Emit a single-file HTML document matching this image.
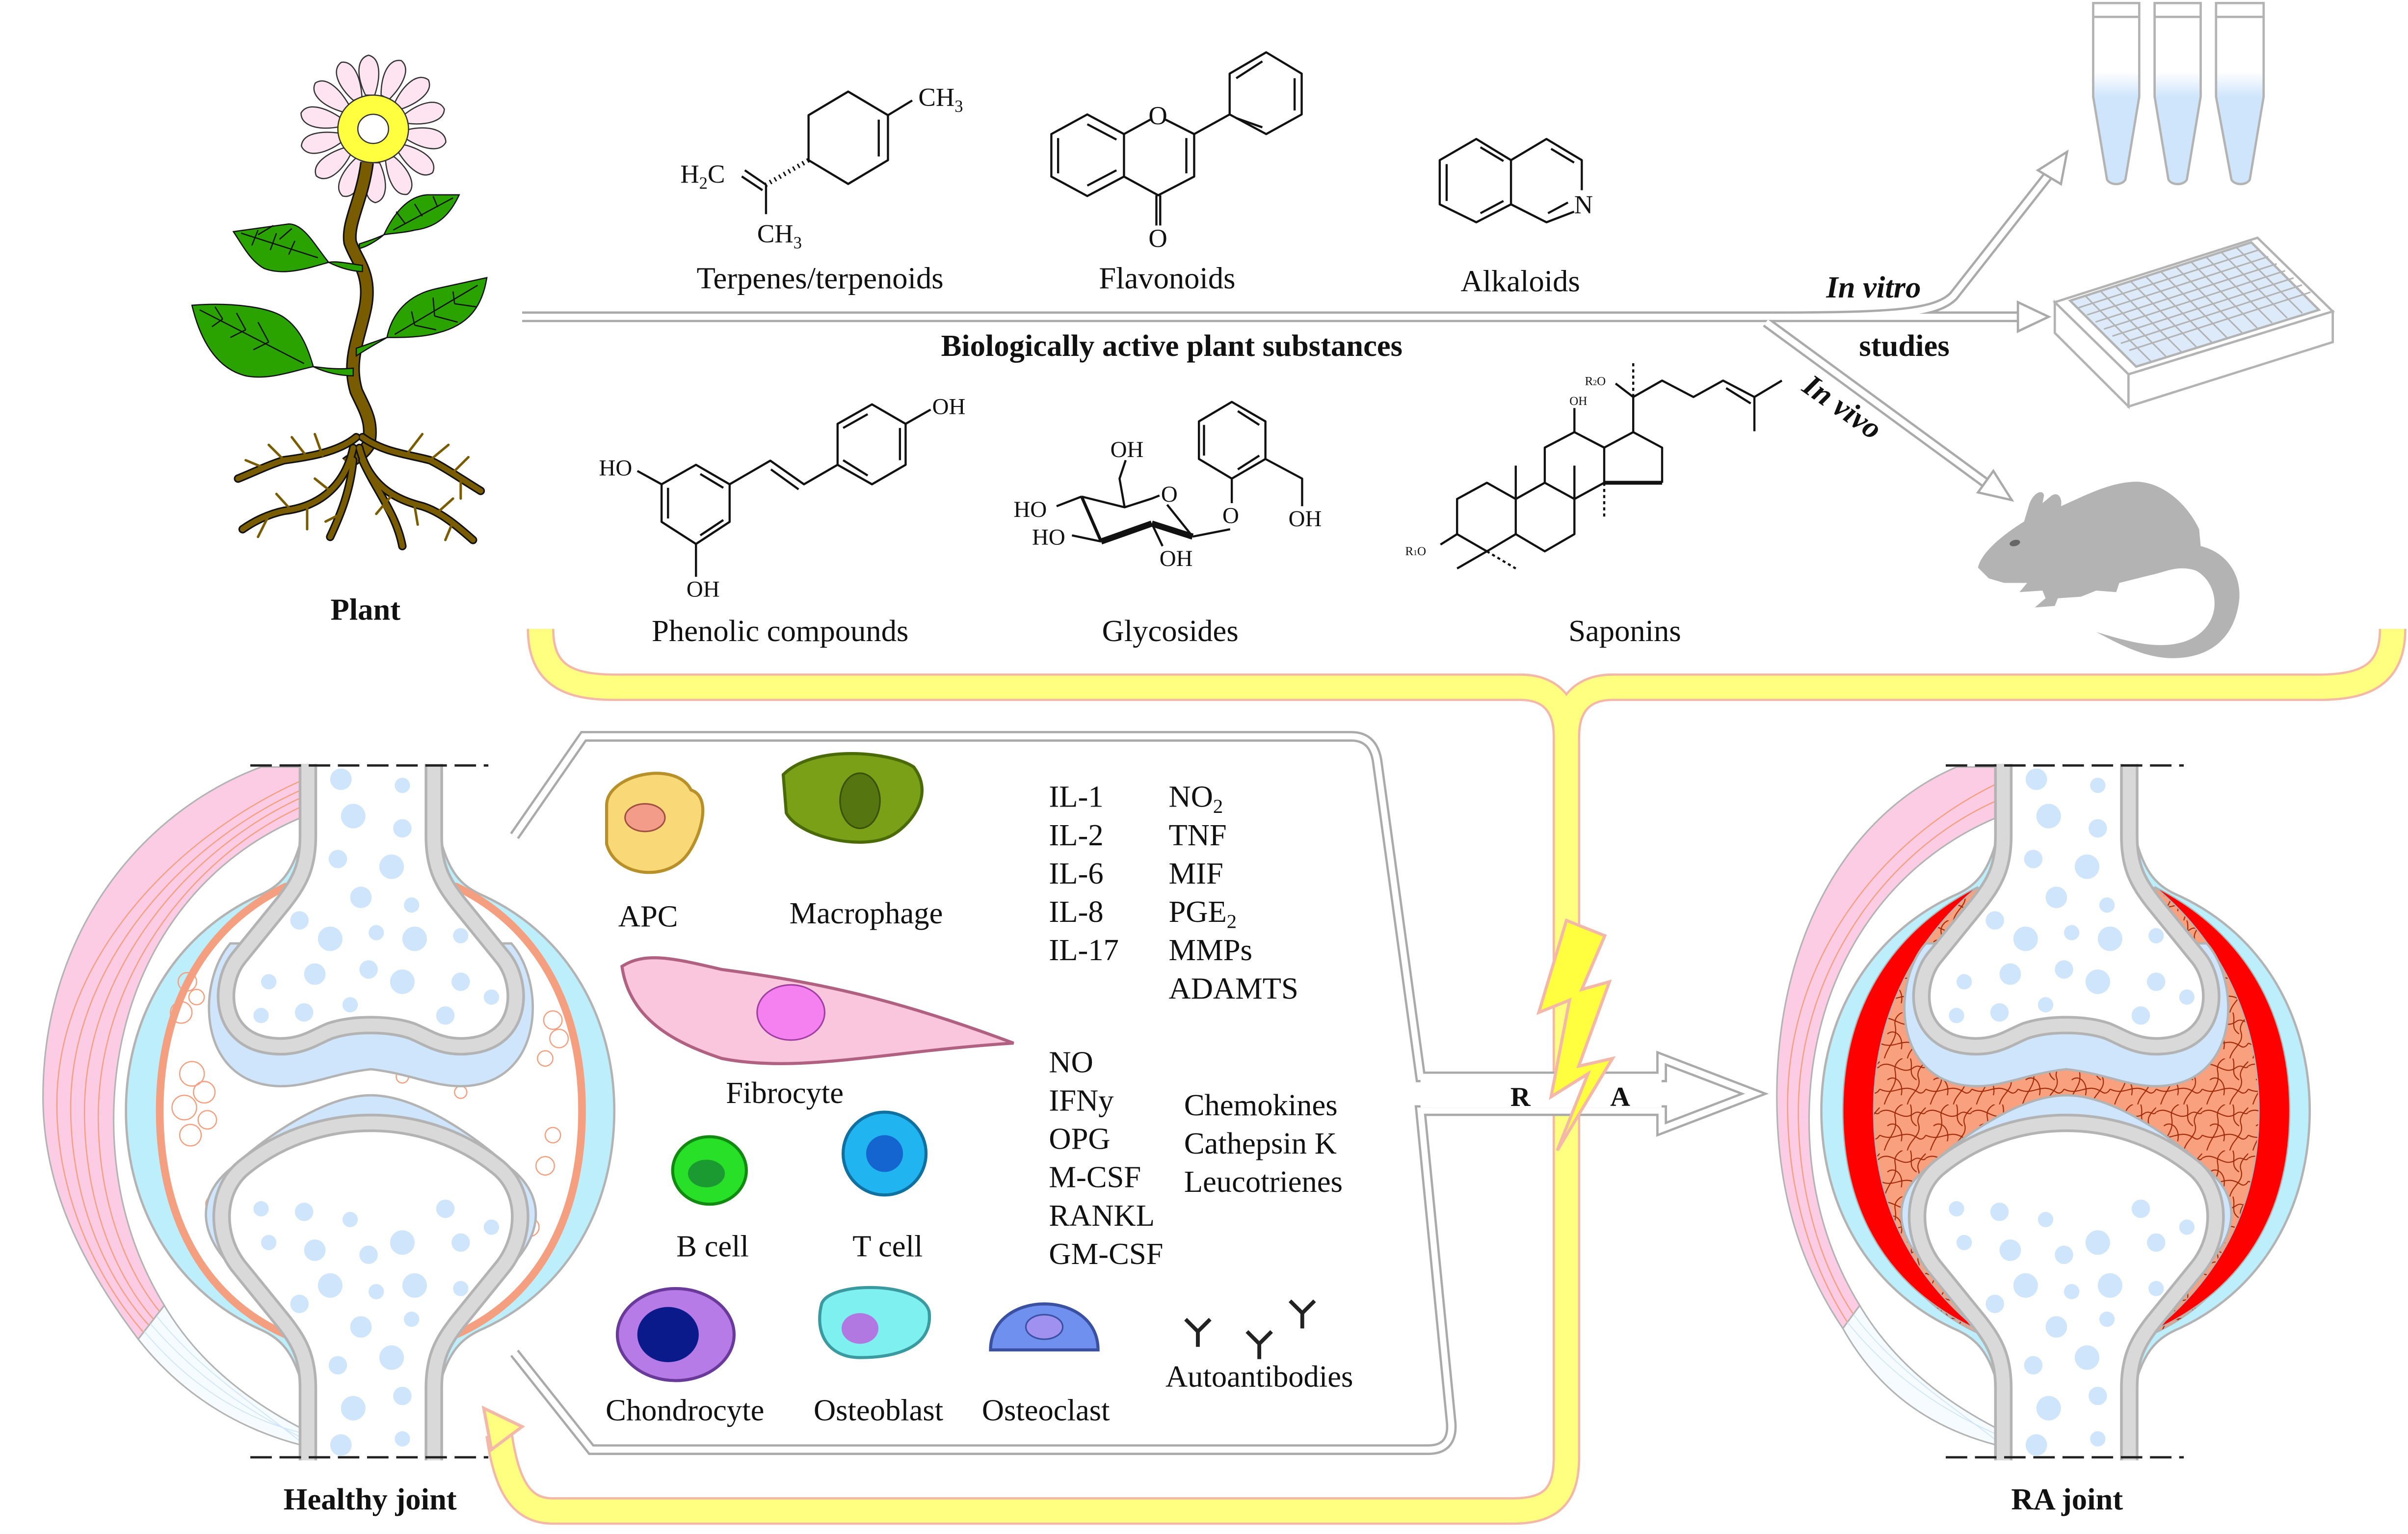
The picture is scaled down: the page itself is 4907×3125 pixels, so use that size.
<!DOCTYPE html>
<html><head><meta charset="utf-8"><style>
html,body{margin:0;padding:0;background:#fff}
svg{display:block}
text{font-family:"Liberation Serif",serif;fill:#111}
.ch{font-family:"Liberation Sans",sans-serif}
</style></head><body>
<svg width="4907" height="3125" viewBox="0 0 1568 1000" preserveAspectRatio="none" xmlns="http://www.w3.org/2000/svg">
<defs>
<linearGradient id="tg" x1="0" y1="0" x2="0" y2="1"><stop offset="0.38" stop-color="#fff"/><stop offset="0.52" stop-color="#cfe5fb"/><stop offset="1" stop-color="#cfe5fb"/></linearGradient>
<pattern id="fib" width="30" height="30" patternUnits="userSpaceOnUse">
  <g fill="none" stroke="#a02a08" stroke-width="0.7">
    <path d="M0,5 C8,0 14,12 22,6 C26,3 28,8 30,5"/><path d="M3,30 C6,20 12,18 10,8 C9,3 14,0 15,0"/>
    <path d="M0,20 C10,25 15,15 25,22 C28,24 30,20 30,20"/><path d="M18,30 C20,22 28,20 25,12 C24,8 28,4 30,2"/>
    <path d="M5,14 C10,10 16,16 14,24"/><path d="M20,0 C22,6 18,10 24,14"/>
  </g>
</pattern>
<g id="spotsUp" fill="#cfe5fb">
  <circle cx="222" cy="508" r="7"/><circle cx="262" cy="512" r="5"/><circle cx="230" cy="532" r="8"/><circle cx="262" cy="540" r="6"/>
  <circle cx="220" cy="560" r="6"/><circle cx="255" cy="565" r="8"/><circle cx="235" cy="585" r="7"/><circle cx="268" cy="590" r="5"/>
  <circle cx="195" cy="600" r="6"/><circle cx="215" cy="612" r="8"/><circle cx="245" cy="608" r="5"/><circle cx="270" cy="612" r="8"/><circle cx="300" cy="610" r="5"/>
  <circle cx="175" cy="640" r="5"/><circle cx="205" cy="635" r="7"/><circle cx="240" cy="632" r="6"/><circle cx="262" cy="640" r="8"/><circle cx="300" cy="640" r="6"/><circle cx="320" cy="650" r="5"/>
  <circle cx="170" cy="662" r="5"/><circle cx="198" cy="660" r="6"/><circle cx="228" cy="655" r="5"/><circle cx="290" cy="662" r="6"/>
</g>
<g id="bone">
  <path d="M150,615 C128,640 128,705 180,708 C200,709 215,700 241.5,697 C268,700 283,709 303,708 C355,705 355,640 333,615 Z" fill="#cfe5fb" stroke="#b3b3b3" stroke-width="1.5"/>
  <path d="M200.5,498 L200.5,545 C200.5,565 195,575 185,588 L155,625 C142,642 142,680 180,682 C196,683 205,676 215,672 C230,667 253,667 268,672 C278,676 287,683 303,682 C341,680 341,642 328,625 L298,588 C288,575 282.5,565 282.5,545 L282.5,498 Z" fill="#fff"/>
  <use href="#spotsUp"/>
  <path d="M200.5,498 L200.5,545 C200.5,565 195,575 185,588 L155,625 C142,642 142,680 180,682 C196,683 205,676 215,672 C230,667 253,667 268,672 C278,676 287,683 303,682 C341,680 341,642 328,625 L298,588 C288,575 282.5,565 282.5,545 L282.5,498" fill="none" stroke="#b3b3b3" stroke-width="12"/>
  <path d="M200.5,498 L200.5,545 C200.5,565 195,575 185,588 L155,625 C142,642 142,680 180,682 C196,683 205,676 215,672 C230,667 253,667 268,672 C278,676 287,683 303,682 C341,680 341,642 328,625 L298,588 C288,575 282.5,565 282.5,545 L282.5,498" fill="none" stroke="#d9d9d9" stroke-width="8.5"/>
</g>
<g id="boneLow">
  <path d="M155,830 C128,805 128,780 150,762 C180,735 215,714 241.5,714 C268,714 303,735 333,762 C355,780 355,805 328,830 Z" fill="#cfe5fb" stroke="#b3b3b3" stroke-width="1.5"/>
  <path d="M200.5,952 L200.5,905 C200.5,885 195,875 185,862 L155,825 C140,805 140,775 160,760 C185,740 215,732 241.5,732 C268,732 298,740 323,760 C343,775 343,805 328,825 L298,862 C288,875 282.5,885 282.5,905 L282.5,952 Z" fill="#fff"/>
  <use href="#spotsUp" transform="translate(0,1450) scale(1,-1)"/>
  <path d="M200.5,952 L200.5,905 C200.5,885 195,875 185,862 L155,825 C140,805 140,775 160,760 C185,740 215,732 241.5,732 C268,732 298,740 323,760 C343,775 343,805 328,825 L298,862 C288,875 282.5,885 282.5,905 L282.5,952" fill="none" stroke="#b3b3b3" stroke-width="12"/>
  <path d="M200.5,952 L200.5,905 C200.5,885 195,875 185,862 L155,825 C140,805 140,775 160,760 C185,740 215,732 241.5,732 C268,732 298,740 323,760 C343,775 343,805 328,825 L298,862 C288,875 282.5,885 282.5,905 L282.5,952" fill="none" stroke="#d9d9d9" stroke-width="8.5"/>
</g>
<path id="capOuter" d="M196,548 C190,570 182,578 168,584 C112,610 82,665 82,724 C82,785 112,840 168,866 C182,872 190,880 196,900 L287,900 C293,880 301,872 315,866 C371,840 400,785 400,724 C400,665 371,610 315,584 C301,578 293,570 287,548 Z"/>
<path id="capInner" d="M186,578 C130,605 104,660 104,724 C104,790 130,845 186,870 L297,870 C353,845 379,790 379,724 C379,660 353,605 297,578 Z"/>
<g id="dashes" stroke="#222" stroke-width="1.5" stroke-dasharray="14,5"><line x1="163" y1="499" x2="318" y2="499"/><line x1="163" y1="950" x2="318" y2="950"/></g>
</defs>

<!-- plant -->
<g>
  <g fill="#fde4f0" stroke="#333" stroke-width="0.8">
    <g id="pet"><path d="M238,62 C232,50 232,38 240,36 C248,38 248,50 244,62 Z"/></g>
    <use href="#pet" transform="rotate(26 243 84)"/><use href="#pet" transform="rotate(52 243 84)"/><use href="#pet" transform="rotate(78 243 84)"/>
    <use href="#pet" transform="rotate(104 243 84)"/><use href="#pet" transform="rotate(130 243 84)"/><use href="#pet" transform="rotate(156 243 84)"/>
    <use href="#pet" transform="rotate(182 243 84)"/><use href="#pet" transform="rotate(208 243 84)"/><use href="#pet" transform="rotate(234 243 84)"/>
    <use href="#pet" transform="rotate(260 243 84)"/><use href="#pet" transform="rotate(286 243 84)"/><use href="#pet" transform="rotate(312 243 84)"/><use href="#pet" transform="rotate(338 243 84)"/>
  </g>
  <path d="M239,106 C236,130 226,145 228,158 C232,170 242,178 238,200 C234,220 226,235 232,255 C238,268 243,275 240,290 C236,297 228,300 226,302" fill="none" stroke="#111" stroke-width="9"/>
  <path d="M239,106 C236,130 226,145 228,158 C232,170 242,178 238,200 C234,220 226,235 232,255 C238,268 243,275 240,290 C236,297 228,300 226,302" fill="none" stroke="#7a5c00" stroke-width="7"/>
  <g fill="#2aa300" stroke="#111" stroke-width="0.8">
    <path d="M152,151 L188,146 C198,146 205,160 214,171 C200,175 185,180 172,175 C163,170 158,160 152,151 Z"/>
    <path d="M214,171 C222,175 230,177 236,177 L236,173 C228,172 220,170 214,171Z"/>
    <path d="M250,153 C256,140 265,128 278,127 L299,127 C293,140 285,148 270,150 C262,152 255,152 250,153 Z"/>
    <path d="M250,153 C244,158 238,161 234,162 L234,159 C240,157 246,155 250,153Z"/>
    <path d="M125,199 C150,197 175,200 185,207 C195,214 200,225 204,239 C190,242 175,248 160,245 C140,240 130,220 125,199 Z"/>
    <path d="M204,239 C212,243 222,245 230,245 L230,240 C220,241 212,240 204,239Z"/>
    <path d="M252,220 C255,205 265,192 285,188 L317,181 C314,200 305,212 285,217 C275,220 262,220 252,220 Z"/>
    <path d="M252,220 C245,224 238,228 232,232 L232,227 C238,225 246,222 252,220Z"/>
  </g>
  <g fill="none" stroke="#111" stroke-width="0.8">
    <path d="M157,152 L207,168 M168,150 L164,160 M180,152 L176,163 M192,157 L188,166 M168,153 L178,147 M182,156 L190,149"/>
    <path d="M256,150 L295,129 M264,146 L258,138 M275,141 L270,133 M285,135 L282,128"/>
    <path d="M130,202 L198,237 M145,208 L138,213 M160,215 L150,220 M175,223 L165,228 M145,208 L140,200 M160,215 L154,204 M175,223 L168,210"/>
    <path d="M257,218 L311,186 M270,212 L268,203 M283,206 L282,194 M296,198 L295,190 M270,212 L284,215 M283,206 L298,210 M296,198 L310,200"/>
  </g>
  <g fill="none" stroke-linecap="round">
    <g stroke="#111" stroke-width="5.5">
      <path d="M232,285 C220,295 200,298 185,300 C175,303 165,308 155,312"/><path d="M236,285 C250,295 265,296 280,300 C290,305 300,312 313,320"/>
      <path d="M230,292 C225,315 210,330 185,333 C175,335 165,340 158,345"/><path d="M234,292 C240,315 255,325 275,330 C288,334 300,345 308,352"/>
      <path d="M230,300 C228,320 222,335 215,350"/><path d="M236,300 C245,320 258,335 262,356"/>
    </g>
    <g stroke="#7a5c00" stroke-width="3.5">
      <path d="M232,285 C220,295 200,298 185,300 C175,303 165,308 155,312"/><path d="M236,285 C250,295 265,296 280,300 C290,305 300,312 313,320"/>
      <path d="M230,292 C225,315 210,330 185,333 C175,335 165,340 158,345"/><path d="M234,292 C240,315 255,325 275,330 C288,334 300,345 308,352"/>
      <path d="M230,300 C228,320 222,335 215,350"/><path d="M236,300 C245,320 258,335 262,356"/>
    </g>
    <g stroke="#7a5c00" stroke-width="1.6">
      <path d="M200,298 L190,285 M185,300 L175,290 M172,305 L160,300 M210,297 L205,283 M190,333 L180,322 M175,336 L168,350 M200,330 L200,345 M215,320 L205,312"/>
      <path d="M265,296 L275,283 M280,300 L292,290 M295,308 L305,298 M300,312 L300,325 M270,330 L272,342 M285,334 L295,325 M295,340 L290,352 M255,323 L245,335 M222,335 L212,340 M250,330 L258,342"/>
    </g>
  </g>
  <ellipse cx="243" cy="84" rx="23" ry="22" fill="#ffff40" stroke="#333" stroke-width="0.8"/>
  <ellipse cx="243" cy="84" rx="10" ry="9.5" fill="#fff" stroke="#333" stroke-width="0.8"/>
</g>
<text x="238" y="404" font-size="20" font-weight="bold" text-anchor="middle">Plant</text>

<!-- main arrows -->
<g fill="none" stroke-linejoin="round">
  <path d="M340,206.5 L1150,206.5 C1230,206.5 1260,205 1272,193 L1334,114 M1150,206.5 L1280,206.5 L1316,206.5 M1150,210 L1300,320" stroke="#aaa" stroke-width="7"/>
  <path d="M340,206.5 L1150,206.5 C1230,206.5 1260,205 1272,193 L1334,114 M1150,206.5 L1280,206.5 L1316,206.5 M1150,210 L1300,320" stroke="#fff" stroke-width="4"/>
</g>
<g fill="#fff" stroke="#aaa" stroke-width="1.5">
  <path d="M1314,197 L1334,206.5 L1314,216Z"/><path d="M1327,111 L1346,99 L1342,120Z"/><path d="M1298,307 L1310,326 L1288,321Z"/>
</g>

<!-- tubes -->
<g stroke="#b3b3b3" stroke-width="1.5" fill="url(#tg)">
  <path d="M1363,2 L1393,2 L1393,63 L1384,117 C1382,121 1374,121 1372,117 L1363,63Z"/>
  <path d="M1403,2 L1433,2 L1433,63 L1424,117 C1422,121 1414,121 1412,117 L1403,63Z"/>
  <path d="M1443,2 L1474,2 L1474,63 L1465,117 C1463,121 1455,121 1453,117 L1443,63Z"/>
  <path d="M1363,11 L1393,11 M1403,11 L1433,11 M1443,11 L1474,11" fill="none"/>
</g>
<!-- plate -->
<g stroke="#b3b3b3" stroke-width="1.5">
  <path d="M1338,197 L1470,155 L1519,203 L1386,244Z" fill="#fff"/>
  <path d="M1338,197 L1338,217 L1386,265 L1386,244Z" fill="#fff"/>
  <path d="M1386,244 L1386,265 L1519,223 L1519,203Z" fill="#fff"/>
  <path d="M1348,196 L1466,158 L1510,202 L1391,239Z" fill="#dceafa"/>
</g>
<g stroke="#b3b3b3" stroke-width="1">
  <path d="M1353.5,200.6 L1471.5,162.7 M1359,205.3 L1477,167.3 M1364.5,209.9 L1482.5,172 M1370,214.5 L1488,176.5 M1375.5,219.1 L1493.5,181.2 M1381,223.8 L1499,185.8 M1386.5,228.4 L1504.5,190.5"/>
  <path d="M1357.8,192.8 L1400.8,235.8 M1367.7,189.7 L1410.7,232.7 M1377.5,186.5 L1420.5,229.5 M1387.3,183.3 L1430.3,226.3 M1397.2,180.2 L1440.2,223.2 M1407,177 L1450,220 M1416.8,173.8 L1459.8,216.8 M1426.7,170.7 L1469.7,213.7 M1436.5,167.5 L1479.5,210.5 M1446.3,164.3 L1489.3,207.3 M1456.2,161.2 L1499.2,204.2"/>
</g>
<!-- mouse -->
<path d="M1288,370 C1290,360 1305,348 1318,340 L1321,330 C1323,322 1330,318 1331,323 L1330,328 L1336,323 C1341,320 1343,326 1342,330 C1360,322 1375,314 1392,314 C1410,315 1425,330 1432,345 L1433,356 C1450,360 1460,375 1458,392 C1455,415 1440,430 1412,429 C1395,428 1380,420 1365,412 C1385,418 1400,422 1415,420 C1448,415 1448,382 1430,372 C1418,368 1410,373 1400,375 L1380,380 L1378,386 L1365,385 L1355,389 L1340,390 L1338,395 L1325,396 L1332,390 L1330,385 L1315,386 L1320,380 L1305,380 L1295,377 Z" fill="#b3b3b3"/>
<ellipse cx="1312" cy="354" rx="3.5" ry="2" fill="#666" transform="rotate(-15 1312 354)"/>

<!-- chemical structures -->
<g fill="none" stroke="#111" stroke-width="1.4" stroke-linejoin="round">
  <!-- terpene -->
  <path d="M552.3,59.7 L578.2,75.1 L578.2,104.4 L552.3,119.9 L526.5,104.4 L526.5,75.1 Z"/>
  <path d="M572.2,78 L572.2,102"/><path d="M578.2,75.1 L594,65.5"/>
  <path d="M526.5,104.4 L498.8,120.4" stroke-width="3" stroke-dasharray="1,2.5"/>
  <path d="M498.8,120.4 L485,111 M496.5,124 L483,115"/><path d="M498.8,120.4 L498.8,139.6"/>
  <!-- flavone -->
  <path d="M708,74.6 L731.9,87.4 L731.9,115.1 L708,127.8 L684.6,115.1 L684.6,87.4Z"/>
  <path d="M708,81 L727,91 M689,90 L689,113 M708,121 L727,111"/>
  <path d="M731.9,87.4 L749,78 M759,78 L777.6,87.4 L777.6,115.1 L754.2,127.3 L731.9,115.1"/>
  <path d="M772.5,90 L772.5,113"/><path d="M753,127.3 L753,147 M755.5,127.3 L755.5,147"/>
  <path d="M777.6,87.4 L800.7,74.6"/>
  <path d="M824.5,34.1 L847.6,48 L847.6,74.6 L824.5,87.4 L800.7,74.6 L800.7,48 Z"/>
  <path d="M805,51 L822,40 M843,51 L843,72 M805,77 L822,83"/>
  <!-- isoquinoline -->
  <path d="M961.3,90.6 L983.9,104.4 L983.9,133.2 L961.3,144.9 L937.5,133.2 L937.5,104.4Z"/>
  <path d="M942,107 L942,131 M964,96 L979,105 M964,139 L979,131"/>
  <path d="M983.9,104.4 L1007,90.6 L1030,104.4 L1030,124 M1025,138 L1007,144.9 L983.9,133.2"/>
  <path d="M1010,97 L1025,106 M1008,139 L1021,132"/>
  <!-- stilbene -->
  <path d="M453.2,303 L475.1,315.7 L475.1,340.2 L453.2,354.6 L430.8,340.2 L430.8,315.7Z"/>
  <path d="M456,309 L471,318 M456,349 L471,339 M435,318 L435,338"/>
  <path d="M430.8,315.7 L415,307"/><path d="M453.2,354.6 L453.2,376"/>
  <path d="M475.1,315.7 L501.6,300.3 L523.5,315.7 L545.4,303"/><path d="M502,306 L520,319"/>
  <path d="M567.8,263.6 L589.7,276.3 L589.7,303 L567.8,315.7 L545.4,303 L545.4,276.3Z"/>
  <path d="M549,279 L565,270 M549,300 L565,310 M586,279 L586,300"/><path d="M589.7,276.3 L606,267"/>
  <!-- glycoside -->
  <path d="M802.1,262 L824,274.7 L824,299.2 L802.1,312 L780.7,299.2 L780.7,274.7Z"/>
  <path d="M806,268 L820,277 M784,277 L784,297 M806,306 L820,297"/>
  <path d="M824,299.2 L847.9,312 L847.9,330"/><path d="M802.1,312 L802.1,328"/><path d="M801,345 L776.6,349.8"/>
  <path d="M704.3,323.7 L732.3,330.7 L750,325 L755,323 M760,329 L776.6,349.8"/>
  <path d="M776.6,349.8 L750,341.3" stroke-width="4"/><path d="M750,341.3 L717,353" stroke-width="4"/><path d="M717,353 L704.3,323.7" stroke-width="2"/>
  <path d="M732.3,330.7 L729,312 L733,300"/><path d="M704.3,323.7 L688,330"/><path d="M717,353 L698,349"/><path d="M750,341.3 L757,356"/>
  <!-- saponin -->
  <path d="M948.8,325.3 L968.2,314.7 L987,325.3 L987,348.2 L968.2,359.4 L948.8,348.2Z"/>
  <path d="M987,325.3 L1005.9,314.7 L1025.2,325.3 L1025.2,348.2 L1005.9,359.4 L987,348.2"/>
  <path d="M1005.9,314.7 L1005.9,291.8 L1025.2,281.7 L1044.6,291.8 L1044.6,314.7 L1025.2,325.3"/>
  <path d="M1044.6,291.8 L1063.5,281.7 L1082.3,291.8 L1082.3,314.7"/><path d="M1044.6,314.7 L1082.3,314.7" stroke-width="2.5"/>
  <path d="M987,325.3 L987,303.5 M1025.2,325.3 L1025.2,303.5"/><path d="M1044.6,314.7 L1044.6,337" stroke-dasharray="2,2"/>
  <path d="M1063.5,281.7 L1063.5,258.8 L1082.3,248.1 L1102.7,258.8 L1122,248.1 L1142.4,258.8 L1160.3,248.1 M1142.4,258.8 L1142.4,281.1"/>
  <path d="M1124,253 L1140,263"/><path d="M1063.5,258.8 L1052,250"/><path d="M1063.5,258.8 L1063.5,236" stroke-dasharray="2,2"/>
  <path d="M1025.2,281.7 L1025.2,266"/><path d="M948.8,348.2 L938,355"/>
  <path d="M968.2,359.4 L948.8,370.6"/><path d="M968.2,359.4 L987,370.6" stroke-dasharray="2,2"/>
</g>
<g class="ch" font-size="17">
  <text x="443" y="119">H<tspan font-size="11" dy="4">2</tspan><tspan dy="-4">C</tspan></text>
  <text x="598" y="69">CH<tspan font-size="11" dy="4">3</tspan></text>
  <text x="493" y="158">CH<tspan font-size="11" dy="4">3</tspan></text>
  <text x="754" y="81" text-anchor="middle">O</text><text x="754" y="161" text-anchor="middle">O</text>
  <text x="1025" y="139">N</text>
  <text x="607" y="270" font-size="15">OH</text><text x="390" y="310" font-size="15">HO</text><text x="447" y="389" font-size="15">OH</text>
  <text x="723" y="298" font-size="15">OH</text><text x="660" y="337" font-size="15">HO</text><text x="672" y="355" font-size="15">HO</text><text x="755" y="369" font-size="15">OH</text>
  <text x="756" y="327" font-size="15">O</text><text x="796" y="341" font-size="15">O</text><text x="839" y="343" font-size="15">OH</text>
  <text x="1022" y="264" font-size="8">OH</text><text x="1032" y="251" font-size="8">R<tspan font-size="5">2</tspan>O</text><text x="915" y="362" font-size="8">R<tspan font-size="5">1</tspan>O</text>
</g>
<g font-size="20">
  <text x="534" y="188" text-anchor="middle">Terpenes/terpenoids</text>
  <text x="760" y="188" text-anchor="middle">Flavonoids</text>
  <text x="990" y="190" text-anchor="middle">Alkaloids</text>
  <text x="508" y="418" text-anchor="middle">Phenolic compounds</text>
  <text x="762" y="418" text-anchor="middle">Glycosides</text>
  <text x="1058" y="418" text-anchor="middle">Saponins</text>
</g>
<text x="763" y="232" font-size="20" font-weight="bold" text-anchor="middle">Biologically active plant substances</text>
<text x="1220" y="194" font-size="20" font-weight="bold" font-style="italic" text-anchor="middle">In vitro</text>
<text x="1240" y="232" font-size="20" font-weight="bold" text-anchor="middle">studies</text>
<text x="1200" y="272" font-size="20" font-weight="bold" font-style="italic" text-anchor="middle" transform="rotate(35 1200 265)">In vivo</text>

<!-- yellow bracket -->
<g fill="none" stroke-linejoin="round">
  <path d="M352,410 C352,440 370,448 400,448 L990,448 C1010,448 1020,460 1020,480 L1020,950 C1020,975 1010,985 985,985 L360,985 C340,985 330,970 325,935" stroke="#f4b8a8" stroke-width="18"/>
  <path d="M1558,410 C1558,440 1540,448 1510,448 L1050,448 C1030,448 1020,460 1020,480" stroke="#f4b8a8" stroke-width="18"/>
  <path d="M352,410 C352,440 370,448 400,448 L990,448 C1010,448 1020,460 1020,480 L1020,950 C1020,975 1010,985 985,985 L360,985 C340,985 330,970 325,935" stroke="#ffff80" stroke-width="15"/>
  <path d="M1558,410 C1558,440 1540,448 1510,448 L1050,448 C1030,448 1020,460 1020,480" stroke="#ffff80" stroke-width="15"/>
</g>
<path d="M315,918 L340,930 L320,945Z" fill="#ffff80" stroke="#f4b8a8" stroke-width="2"/>

<!-- gray box with arrow -->
<path d="M335,545 L380,480 L880,480 Q895,480 897,498 L925,702 L1082,702 L1082,690 L1142,713 L1082,736 L1082,724 L925,724 L945,928 Q946,945 930,945 L385,945 L335,882" fill="none" stroke="#aaa" stroke-width="7"/>
<path d="M335,545 L380,480 L880,480 Q895,480 897,498 L925,702 L1082,702 L1082,690 L1142,713 L1082,736 L1082,724 L925,724 L945,928 Q946,945 930,945 L385,945 L335,882" fill="none" stroke="#fff" stroke-width="4"/>
<path d="M925,704 L1082,704 L1082,722 L925,722Z" fill="#fff"/>
<text x="990" y="721" font-size="18" font-weight="bold" text-anchor="middle">R</text>
<text x="1055" y="721" font-size="18" font-weight="bold" text-anchor="middle">A</text>
<path d="M1020,600 L1002,660 L1022,652 L1010,715 L1034,700 L1014,750 L1050,690 L1028,695 L1048,640 L1030,645 L1045,610Z" fill="#ffff40" stroke="#f4b8a8" stroke-width="2"/>

<!-- cells -->
<path d="M395,525 C395,505 440,495 450,515 C465,520 455,550 445,560 C430,575 400,570 395,550Z" fill="#f9d878" stroke="#b8902a" stroke-width="2"/>
<ellipse cx="420" cy="533" rx="13" ry="9" fill="#f39c8a" stroke="#a05040"/>
<path d="M510,505 C530,485 580,490 595,500 C610,520 590,540 580,545 C560,555 520,545 512,530Z" fill="#7aa018" stroke="#4a6a08" stroke-width="2"/>
<ellipse cx="560" cy="522" rx="13" ry="18" fill="#557510" stroke="#3a5005"/>
<path d="M405,630 C420,620 440,625 470,632 C530,640 580,650 660,680 C580,685 520,700 470,690 C440,680 410,665 405,630Z" fill="#f9c6dd" stroke="#b06080" stroke-width="2"/>
<ellipse cx="515" cy="660" rx="22" ry="18" fill="#f580f0" stroke="#a040a0"/>
<ellipse cx="462" cy="763" rx="24" ry="22" fill="#29e029" stroke="#128a12" stroke-width="2"/><ellipse cx="460" cy="765" rx="12" ry="9" fill="#1a9a30"/>
<circle cx="576" cy="752" r="27" fill="#20b4f0" stroke="#1070a0" stroke-width="2"/><circle cx="576" cy="752" r="12" fill="#1565d0"/>
<ellipse cx="440" cy="870" rx="38" ry="30" fill="#b77be8" stroke="#6a3a9a" stroke-width="2"/><ellipse cx="435" cy="870" rx="20" ry="18" fill="#0a1a8a"/>
<path d="M535,850 C540,835 600,835 605,855 C608,880 580,885 560,885 C540,885 530,870 535,850Z" fill="#7ff0f0" stroke="#3a9aa0" stroke-width="2"/><ellipse cx="560" cy="866" rx="12" ry="10" fill="#b078e0"/>
<path d="M645,880 C645,840 715,840 715,880 Z" fill="#7090f0" stroke="#3a50a0" stroke-width="2"/><ellipse cx="680" cy="865" rx="12" ry="8" fill="#a090f0" stroke="#3a50a0"/>
<g font-size="20">
  <text x="422" y="604" text-anchor="middle">APC</text>
  <text x="564" y="602" text-anchor="middle">Macrophage</text>
  <text x="511" y="719" text-anchor="middle">Fibrocyte</text>
  <text x="464" y="819" text-anchor="middle">B cell</text>
  <text x="578" y="819" text-anchor="middle">T cell</text>
  <text x="446" y="926" text-anchor="middle">Chondrocyte</text>
  <text x="572" y="926" text-anchor="middle">Osteoblast</text>
  <text x="681" y="926" text-anchor="middle">Osteoclast</text>
  <text x="820" y="904" text-anchor="middle">Autoantibodies</text>
  <text x="683" y="526">IL-1</text><text x="683" y="551">IL-2</text><text x="683" y="576">IL-6</text><text x="683" y="601">IL-8</text><text x="683" y="626">IL-17</text>
  <text x="761" y="526">NO<tspan font-size="13" dy="4">2</tspan></text><text x="761" y="551">TNF</text><text x="761" y="576">MIF</text><text x="761" y="601">PGE<tspan font-size="13" dy="4">2</tspan></text><text x="761" y="626">MMPs</text><text x="761" y="651">ADAMTS</text>
  <text x="683" y="699">NO</text><text x="683" y="724">IFNy</text><text x="683" y="749">OPG</text><text x="683" y="774">M-CSF</text><text x="683" y="799">RANKL</text><text x="683" y="824">GM-CSF</text>
  <text x="771" y="727">Chemokines</text><text x="771" y="752">Cathepsin K</text><text x="771" y="777">Leucotrienes</text>
</g>
<g stroke="#222" stroke-width="2.5" fill="none">
  <path d="M772,860 L780,868 L788,860 M780,868 L780,878"/><path d="M812,868 L820,876 L828,868 M820,876 L820,886"/><path d="M840,848 L848,856 L856,848 M848,856 L848,866"/>
</g>

<!-- healthy joint -->
<g>
  <path d="M170,500 L196,500 L196,533 C120,565 74,640 74,730 C74,780 88,820 107,851 L90,873 C50,820 28,770 28,715 C28,610 90,530 170,500 Z" fill="#fccce4" stroke="#b3b3b3" stroke-width="1"/>
  <g fill="none" stroke="#f4a080" stroke-width="0.8">
    <path d="M196,509 C115,545 37,625 37,720 C37,775 60,830 93,868"/><path d="M196,515 C118,550 46,630 46,722 C46,777 66,830 97,864"/>
    <path d="M196,520 C120,555 55,635 55,725 C55,778 72,828 100,860"/><path d="M196,526 C122,560 64,640 64,728 C64,779 80,826 104,855"/>
  </g>
  <path d="M90,873 L107,851 C130,890 165,915 196,931 L196,942 C150,930 115,905 90,873 Z" fill="#f6fbff" stroke="#b3b3b3" stroke-width="1"/>
  <g fill="none" stroke="#cfe5fb" stroke-width="0.6"><path d="M94,868 C125,905 160,925 196,934"/><path d="M98,863 C128,898 162,920 196,937"/><path d="M102,858 C130,893 165,915 196,940"/></g>
  <use href="#capOuter" fill="#bdeefc" stroke="#b3b3b3" stroke-width="1.5"/>
  <use href="#capInner" fill="#fff" stroke="#f4a080" stroke-width="5"/>
  <g fill="none" stroke="#f4a080" stroke-width="0.8">
    <circle cx="122" cy="640" r="6"/><circle cx="128" cy="650" r="5"/><circle cx="118" cy="660" r="7"/>
    <circle cx="125" cy="700" r="8"/><circle cx="133" cy="712" r="7"/><circle cx="120" cy="722" r="8"/><circle cx="135" cy="730" r="6"/><circle cx="124" cy="740" r="7"/>
    <circle cx="140" cy="785" r="6"/><circle cx="146" cy="795" r="5"/>
    <circle cx="360" cy="665" r="6"/><circle cx="364" cy="677" r="6"/><circle cx="355" cy="690" r="5"/>
    <circle cx="360" cy="740" r="5"/><circle cx="355" cy="760" r="6"/><circle cx="345" cy="800" r="6"/><circle cx="335" cy="815" r="5"/>
    <circle cx="200" cy="700" r="4"/><circle cx="262" cy="702" r="4"/><circle cx="300" cy="712" r="4"/>
  </g>
  <use href="#bone"/><use href="#boneLow"/>
  <use href="#dashes"/>
</g>

<!-- RA joint -->
<g transform="translate(1104,0)">
  <path d="M170,500 L196,500 L196,533 C120,565 74,640 74,730 C74,780 88,820 107,851 L96,866 C65,820 53,770 53,715 C53,610 100,530 170,500 Z" fill="#fccce4" stroke="#b3b3b3" stroke-width="1"/>
  <g fill="none" stroke="#f4a080" stroke-width="0.8">
    <path d="M196,511 C120,548 60,625 60,720 C60,775 75,825 99,862"/><path d="M196,522 C122,555 67,635 67,725 C67,778 82,826 103,857"/>
  </g>
  <path d="M96,866 L107,851 C130,890 165,915 196,931 L196,942 C150,930 118,905 96,866 Z" fill="#f6fbff" stroke="#b3b3b3" stroke-width="1"/>
  <g fill="none" stroke="#cfe5fb" stroke-width="0.6"><path d="M99,862 C128,898 162,920 196,935"/><path d="M103,857 C130,893 165,915 196,939"/></g>
  <use href="#capOuter" fill="#bdeefc" stroke="#b3b3b3" stroke-width="1.5"/>
  <use href="#capInner" fill="#f9a07e" stroke="#b3b3b3" stroke-width="1"/>
  <use href="#capInner" fill="url(#fib)"/>
  <path d="M184,578 C125,608 96,660 96,724 C96,790 125,840 184,867 C145,835 116,790 116,724 C116,660 145,610 184,578Z" fill="#ff0000" stroke="#b3b3b3" stroke-width="0.8"/>
  <path d="M184,578 C125,608 96,660 96,724 C96,790 125,840 184,867 C145,835 116,790 116,724 C116,660 145,610 184,578Z" fill="#ff0000" stroke="#b3b3b3" stroke-width="0.8" transform="translate(483,0) scale(-1,1)"/>
  <use href="#bone"/><use href="#boneLow"/>
  <use href="#dashes"/>
</g>
<text x="241" y="984" font-size="20" font-weight="bold" text-anchor="middle">Healthy joint</text>
<text x="1346" y="984" font-size="20" font-weight="bold" text-anchor="middle">RA joint</text>
</svg>
</body></html>
